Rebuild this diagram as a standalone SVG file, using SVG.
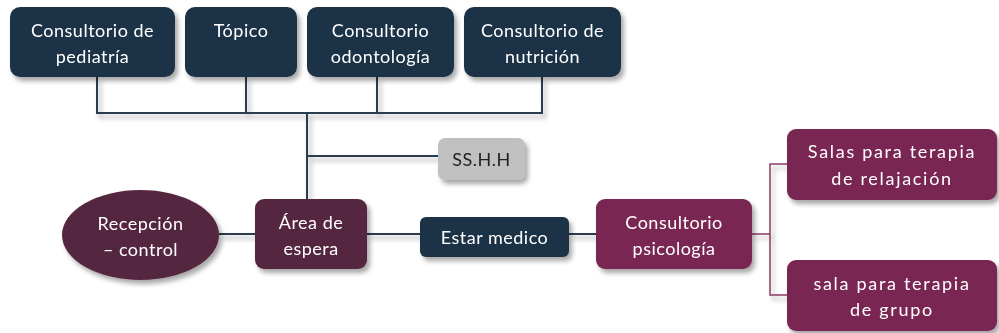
<svg xmlns="http://www.w3.org/2000/svg" width="999" height="333" viewBox="0 0 999 333">
<style>
.navy{fill:#1e3347}
.dm{fill:#55283f}
.bm{fill:#7a2752}
.gray{fill:#c0c0c0}
text{font-family:Lato,"Noto Sans","Liberation Sans",sans-serif;font-size:18px;text-anchor:middle;fill:#ffffff;letter-spacing:0.5px}
text.dark{fill:#222222}
text.wide{letter-spacing:1.7px}
.c{fill:none;stroke:#2a3d50;stroke-width:2}
.cm{fill:none;stroke:#8a3a62;stroke-width:1.5}
</style>
<defs>
<filter id="sh" x="-20%" y="-20%" width="150%" height="160%">
<feGaussianBlur in="SourceAlpha" stdDeviation="2.5"/>
<feOffset dx="3" dy="4" result="b"/>
<feComponentTransfer><feFuncA type="linear" slope="0.35"/></feComponentTransfer>
<feMerge><feMergeNode/><feMergeNode in="SourceGraphic"/></feMerge>
</filter>
</defs>
<g id="connectors" filter="url(#sh)">
<path class="c" d="M97 77V113H542V77M246 77V113M377 77V113M307 113V200M307 156H438"/>
<path class="c" d="M219 234H255M367 234H420M569 234H596"/>
<path class="cm" d="M752 234H770M787 164H770V295H787"/>
</g>
<g id="n-pediatria" filter="url(#sh)">
<rect class="navy" x="10" y="7" width="165" height="70" rx="10"/>
<text x="92.5" y="37">Consultorio de</text>
<text x="92.5" y="63">pediatría</text>
</g>
<g id="n-topico" filter="url(#sh)">
<rect class="navy" x="185" y="7" width="112" height="70" rx="10"/>
<text x="241" y="37">Tópico</text>
</g>
<g id="n-odontologia" filter="url(#sh)">
<rect class="navy" x="307" y="7" width="147" height="70" rx="10"/>
<text x="380.5" y="37">Consultorio</text>
<text x="380.5" y="63">odontología</text>
</g>
<g id="n-nutricion" filter="url(#sh)">
<rect class="navy" x="464" y="7" width="157" height="70" rx="10"/>
<text x="542.5" y="37">Consultorio de</text>
<text x="542.5" y="63">nutrición</text>
</g>
<g id="n-sshh" filter="url(#sh)">
<rect class="gray" x="438" y="138" width="87" height="42" rx="7"/>
<text class="dark" x="481.5" y="166">SS.H.H</text>
</g>
<g id="n-recepcion" filter="url(#sh)">
<ellipse class="dm" cx="140.5" cy="235" rx="78.5" ry="45"/>
<text x="140.5" y="230">Recepción</text>
<text x="140.5" y="256">– control</text>
</g>
<g id="n-area" filter="url(#sh)">
<rect class="dm" x="255" y="199" width="112" height="70" rx="9"/>
<text x="311" y="229">Área de</text>
<text x="311" y="255">espera</text>
</g>
<g id="n-estar" filter="url(#sh)">
<rect class="navy" x="420" y="217" width="149" height="40" rx="6"/>
<text x="494.5" y="244">Estar medico</text>
</g>
<g id="n-psicologia" filter="url(#sh)">
<rect class="bm" x="596" y="199" width="156" height="70" rx="9"/>
<text x="674" y="229">Consultorio</text>
<text x="674" y="255">psicología</text>
</g>
<g id="n-relajacion" filter="url(#sh)">
<rect class="bm" x="787" y="129" width="210" height="71" rx="9"/>
<text class="wide" x="892" y="158">Salas para terapia</text>
<text class="wide" x="892" y="185">de relajación</text>
</g>
<g id="n-grupo" filter="url(#sh)">
<rect class="bm" x="787" y="260" width="210" height="71" rx="9"/>
<text class="wide" x="892" y="290">sala para terapia</text>
<text class="wide" x="892" y="316">de grupo</text>
</g>
</svg>
